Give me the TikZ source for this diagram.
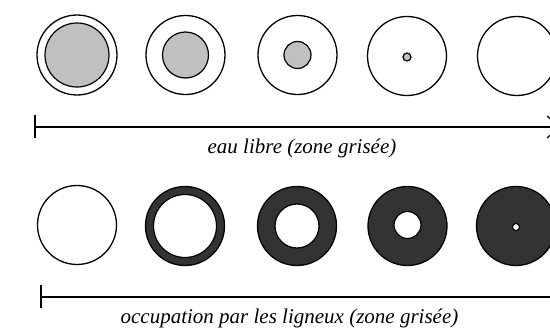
\documentclass[tikz,border=0pt]{standalone}
\usepackage{fontspec}
\setmainfont{Liberation Serif}
\usetikzlibrary{arrows.meta}
\definecolor{lightgrey}{HTML}{C0C0C0}
\definecolor{darkgrey}{HTML}{333333}
\begin{document}
\begin{tikzpicture}[x=1pt,y=-1pt,
  ring/.style={circle,draw=black,line width=1.3pt,inner sep=0pt,minimum size=#1},
  core/.style={circle,draw=black,line width=1.2pt,inner sep=0pt,minimum size=#1},
  scale axis/.style={line width=2.2pt},
  lbl/.style={font=\fontsize{21}{24}\selectfont\itshape,inner sep=0pt}]
\useasboundingbox (0,0) rectangle (550,332);
\clip (0,0) rectangle (550,332);
% top row: eau libre
\node[ring=80pt] (t1) at (77,55) {};
\node[core=64pt,fill=lightgrey] (t1c) at (77,55) {};
\node[ring=79pt] (t2) at (185.5,55) {};
\node[core=46pt,fill=lightgrey] (t2c) at (185.5,55) {};
\node[ring=79pt] (t3) at (297.5,55) {};
\node[core=27pt,fill=lightgrey] (t3c) at (297.5,55) {};
\node[ring=79pt] (t4) at (407,56) {};
\node[core=8pt,fill=lightgrey] (t4c) at (407,57) {};
\node[ring=79pt] (t5) at (517,56) {};
% top axis
\coordinate (a1) at (35,127);
\coordinate (a2) at (560,127);
\draw[scale axis,-{Straight Barb[length=12pt,width=22pt,line width=1.2pt]}] (a1) -- (a2);
\draw[line width=1.5pt] ([yshift=-11pt]a1) -- ([yshift=12pt]a1);
\node[lbl] (tl) at (302,148) {eau libre (zone grisée)};
% bottom row: ligneux
\node[ring=79pt] (b1) at (77,225) {};
\node[ring=79pt,fill=darkgrey] (b2) at (185,226) {};
\node[core=63pt,fill=white] (b2c) at (185,226) {};
\node[ring=79pt,fill=darkgrey] (b3) at (297,226) {};
\node[core=44pt,fill=white] (b3c) at (297,226) {};
\node[ring=79pt,fill=darkgrey] (b4) at (407.5,226) {};
\node[core=27pt,fill=white] (b4c) at (407.5,225) {};
\node[ring=79pt,fill=darkgrey] (b5) at (516,226) {};
\node[core=7pt,fill=white,line width=1pt] (b5c) at (516,227) {};
% bottom axis
\coordinate (c1) at (41,297);
\coordinate (c2) at (560,297);
\draw[scale axis] (c1) -- (c2);
\draw[line width=1.5pt] ([yshift=-11pt]c1) -- ([yshift=12pt]c1);
\node[lbl] (bl) at (289.5,318) {occupation par les ligneux (zone grisée)};
\end{tikzpicture}
\end{document}
